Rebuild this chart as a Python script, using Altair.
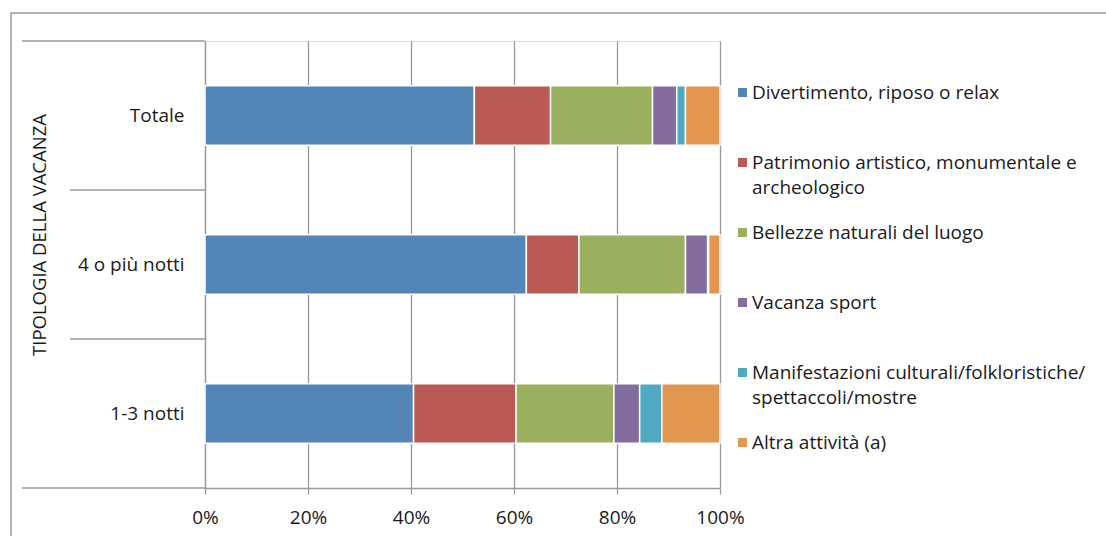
import altair as alt
import pandas as pd

# Tipologia della vacanza (righe del grafico, dall'alto)
categorie = ["Totale", "4 o più notti", "1-3 notti"]

# Motivo principale della vacanza (serie impilate, da sinistra a destra)
motivi = [
    "Divertimento, riposo o relax",
    "Patrimonio artistico, monumentale e archeologico",
    "Bellezze naturali del luogo",
    "Vacanza sport",
    "Manifestazioni culturali/folkloristiche/spettaccoli/mostre",
    "Altra attività (a)",
]

# Quote percentuali per tipologia: Totale, 4 o più notti, 1-3 notti
divertimento = [52.3, 62.4, 40.5]
patrimonio = [14.8, 10.2, 19.9]
bellezze = [19.8, 20.7, 19.0]
sport = [4.7, 4.3, 5.0]
manifestazioni = [1.7, 0.2, 4.3]
altra = [6.7, 2.2, 11.3]

colori = ["#5385B6", "#BA5A54", "#9BB05F", "#846C9E", "#4EA9C1", "#E3964F"]
tick_x = [0, 0.2, 0.4, 0.6, 0.8, 1.0]

serie = [divertimento, patrimonio, bellezze, sport, manifestazioni, altra]
righe = []
for k, (motivo, valori) in enumerate(zip(motivi, serie)):
    for cat, v in zip(categorie, valori):
        righe.append({"categoria": cat, "motivo": motivo, "ordine": k, "valore": v})
df = pd.DataFrame(righe)

FONT = "Open Sans"
FS = 19
GRIGIO = "#9a9a9a"
TESTO = "#1a1a1a"
W, H = 515, 447
STEP = H / 3

etichette_legenda = (
    "datum.label == 'Patrimonio artistico, monumentale e archeologico' ? "
    "['Patrimonio artistico, monumentale e', 'archeologico'] : "
    "datum.label == 'Manifestazioni culturali/folkloristiche/spettaccoli/mostre' ? "
    "['Manifestazioni culturali/folkloristiche/', 'spettaccoli/mostre'] : datum.label"
)

barre = alt.Chart(df).mark_bar(stroke="white", strokeWidth=1.5).encode(
    x=alt.X(
        "valore:Q",
        stack="normalize",
        scale=alt.Scale(domain=[0, 1], nice=False),
        axis=alt.Axis(
            title=None, format="%", values=tick_x, grid=True,
            gridColor=GRIGIO, gridWidth=1.3, tickSize=6, tickColor=GRIGIO,
            tickWidth=1.3, domainColor=GRIGIO, domainWidth=1.3,
            labelFont=FONT, labelFontSize=FS, labelColor=TESTO,
            labelPadding=14, labelFlush=False,
        ),
    ),
    y=alt.Y(
        "categoria:N",
        sort=categorie,
        scale=alt.Scale(paddingInner=0.6, paddingOuter=0.3),
        axis=alt.Axis(
            title=None, ticks=False, grid=False, domainColor=GRIGIO,
            domainWidth=1.3, labelFont=FONT, labelFontSize=FS,
            labelColor=TESTO, labelPadding=21,
        ),
    ),
    color=alt.Color(
        "motivo:N",
        scale=alt.Scale(domain=motivi, range=colori),
        legend=alt.Legend(
            title=None, orient="none", legendX=528, legendY=42,
            symbolType="square", symbolSize=81, symbolStrokeWidth=0,
            labelFont=FONT, labelFontSize=FS, labelColor=TESTO,
            labelOffset=0, labelLimit=400, rowPadding=25, gridAlign="all",
            padding=0, labelExpr=etichette_legenda,
        ),
    ),
    order=alt.Order("ordine:Q", sort="ascending"),
)

uno = alt.Data(values=[{}])

cornice = alt.Chart(uno).mark_rect(fillOpacity=0, stroke=GRIGIO, strokeWidth=1.5).encode(
    x=alt.value(-194), x2=alt.value(1000), y=alt.value(-28), y2=alt.value(600)
)

sep_esterni = [
    alt.Chart(uno).mark_rule(color=GRIGIO, strokeWidth=1.3).encode(
        x=alt.value(-183), x2=alt.value(0), y=alt.value(yy)
    )
    for yy in (0, H)
]
sep_interni = [
    alt.Chart(uno).mark_rule(color=GRIGIO, strokeWidth=1.3).encode(
        x=alt.value(-135), x2=alt.value(0), y=alt.value(yy)
    )
    for yy in (STEP, 2 * STEP)
]

titolo_asse = alt.Chart(uno).mark_text(
    angle=270, font=FONT, fontSize=18.5, color=TESTO, align="center", baseline="middle"
).encode(x=alt.value(-165), y=alt.value(194), text=alt.value("TIPOLOGIA DELLA VACANZA"))

chart = alt.layer(
    barre, cornice, *sep_esterni, *sep_interni, titolo_asse
).properties(
    width=W, height=H,
    padding={"left": 205, "top": 41, "right": 386, "bottom": 48},
    autosize=alt.AutoSizeParams(type="none"),
).configure_view(strokeWidth=0).configure(
    background="white",
    style={"guide-label": {"lineHeight": 25}},
)

chart.save("out.html", embed_options={"renderer": "svg", "actions": False})
